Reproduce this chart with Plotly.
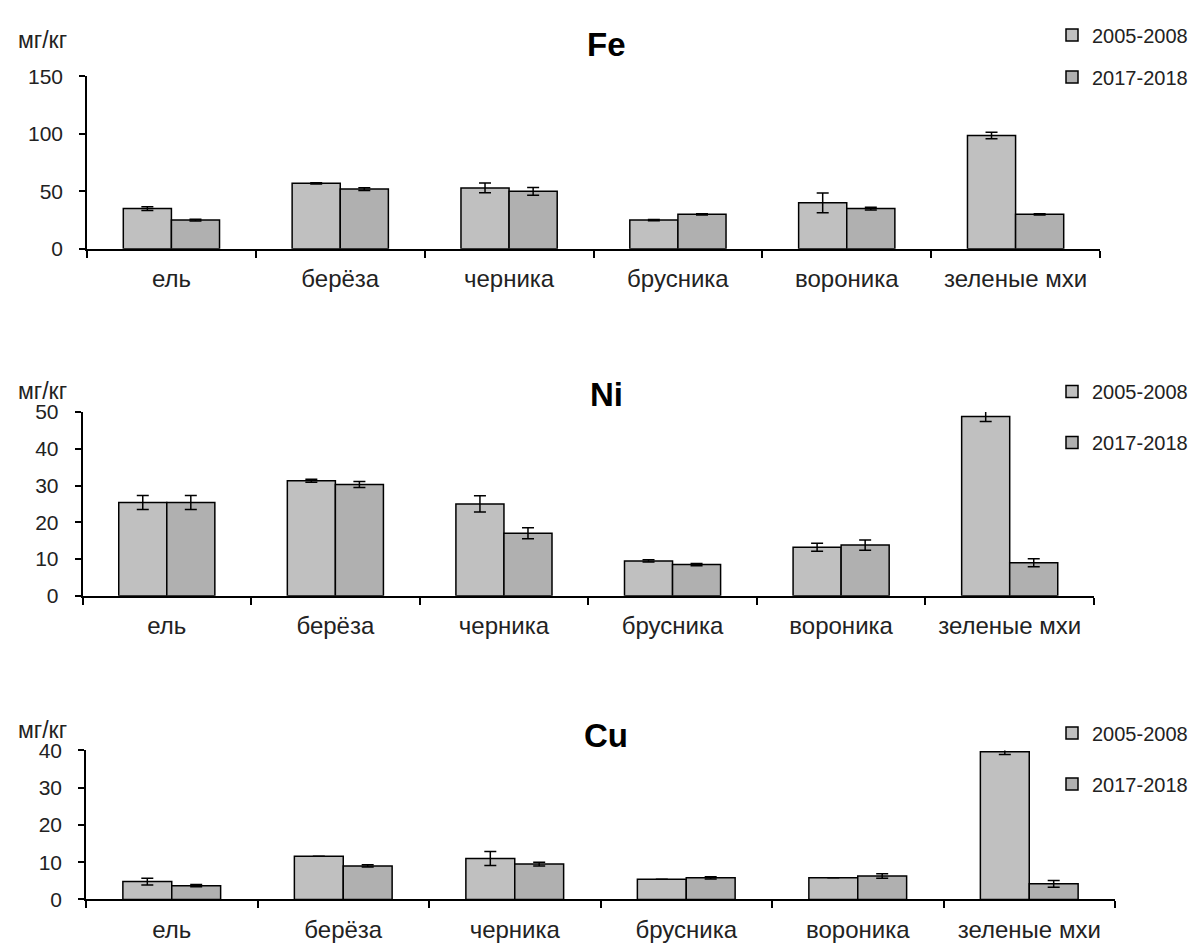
import plotly.graph_objects as go

categories = ['ель', 'берёза', 'черника', 'брусника', 'вороника', 'зеленые мхи']
series_names = ['2005-2008', '2017-2018']
panel_titles = ['Fe', 'Ni', 'Cu']
unit_label = 'мг/кг'

fe_2005 = [35, 57, 53, 25, 40, 98.6]
fe_2005_err = [1.7, 0.5, 4.3, 0.5, 8.6, 2.9]
fe_2017 = [25, 52, 50, 30, 35, 30]
fe_2017_err = [0.7, 1.2, 3.4, 0.5, 1.2, 0.6]

ni_2005 = [25.4, 31.3, 25.0, 9.5, 13.2, 48.8]
ni_2005_err = [1.9, 0.4, 2.2, 0.3, 1.1, 1.4]
ni_2017 = [25.4, 30.3, 17.0, 8.5, 13.8, 9.0]
ni_2017_err = [1.9, 0.8, 1.5, 0.3, 1.4, 1.1]

cu_2005 = [4.8, 11.6, 11.0, 5.4, 5.8, 39.6]
cu_2005_err = [0.9, 0, 1.9, 0, 0, 0.7]
cu_2017 = [3.7, 9.0, 9.5, 5.8, 6.3, 4.2]
cu_2017_err = [0.3, 0.3, 0.5, 0.3, 0.6, 0.9]

y_ranges = [[0, 150], [0, 50], [0, 40]]
y_dticks = [50, 10, 10]

W, H = 1203, 950
FONT = 'Liberation Sans, Arial, sans-serif'
colors = ['#c0c0c0', '#b0b0b0']

panels = [
    ([fe_2005, fe_2017], [fe_2005_err, fe_2017_err]),
    ([ni_2005, ni_2017], [ni_2005_err, ni_2017_err]),
    ([cu_2005, cu_2017], [cu_2005_err, cu_2017_err]),
]

# pixel geometry of each panel: (x_left, x_right, y_top, y_bottom)
geom = [
    (87, 1100, 66, 242.7),
    (82.5, 1094, 410, 598.3),
    (86, 1115, 756.7, 909.5),
]
title_y = [33, 392, 741]
unit_y = [29, 388, 736]
legend_mid = [45, 415, 765]
legend_gap = [13, 22, 22]

fig = go.Figure()
layout = dict(
    width=W, height=H, autosize=False,
    margin=dict(l=0, r=0, t=0, b=0, pad=0),
    paper_bgcolor='white', plot_bgcolor='white',
    barmode='group', bargap=0.43, bargroupgap=0,
    font=dict(family=FONT, color='black'),
    annotations=[],
)

for i, ((vals, errs), (x0, x1, yt, yb)) in enumerate(zip(panels, geom)):
    sfx = '' if i == 0 else str(i + 1)
    leg = 'legend' if i == 0 else 'legend' + str(i + 1)
    for j in range(2):
        fig.add_trace(go.Bar(
            x=categories, y=vals[j], name=series_names[j],
            marker=dict(color=colors[j], line=dict(color='black', width=1.5)),
            error_y=dict(type='data', array=errs[j], color='black', thickness=1.5, width=6),
            xaxis='x' + sfx, yaxis='y' + sfx,
            legend=leg, legendgroup=f'{i}-{j}', showlegend=True,
        ))
    layout['xaxis' + sfx] = dict(
        domain=[x0 / W, x1 / W], anchor='y' + sfx, type='category',
        range=[-0.5, 5.5], showline=True, linecolor='black', linewidth=1.5,
        ticks='outside', tickson='boundaries', ticklen=7, tickwidth=1.5, tickcolor='black',
        ticklabelstandoff=8,
        tickfont=dict(size=24, family=FONT, color='#222'), showgrid=False, zeroline=False,
        fixedrange=True,
    )
    layout['yaxis' + sfx] = dict(
        domain=[1 - yb / H, 1 - yt / H], anchor='x' + sfx,
        range=y_ranges[i], dtick=y_dticks[i], tick0=0,
        showline=True, linecolor='black', linewidth=1.5,
        ticks='outside', ticklen=6, tickwidth=1.5, tickcolor='black',
        ticklabelstandoff=12,
        tickfont=dict(size=21, family=FONT, color='#222'), showgrid=False, zeroline=False,
        fixedrange=True,
    )
    layout[leg] = dict(
        x=1052 / W, y=1 - legend_mid[i] / H, xanchor='left', yanchor='middle',
        xref='paper', yref='paper',
        font=dict(size=20, family=FONT, color='#222'),
        bgcolor='rgba(0,0,0,0)', borderwidth=0,
        traceorder='grouped', tracegroupgap=legend_gap[i],
        itemwidth=30,
    )
    layout['annotations'].append(dict(
        text='<b>' + panel_titles[i] + '</b>', x=606 / W, y=1 - title_y[i] / H,
        xref='paper', yref='paper', xanchor='center', yanchor='middle',
        showarrow=False, font=dict(size=33, family=FONT, color='black'),
    ))
    layout['annotations'].append(dict(
        text=unit_label, x=42 / W, y=1 - unit_y[i] / H,
        xref='paper', yref='paper', xanchor='center', yanchor='middle',
        showarrow=False, font=dict(size=23, family=FONT, color='#222'),
    ))

fig.update_layout(**layout)
fig.write_html('out.html', config={'displayModeBar': False},
               post_script="document.body.style.margin='0px';document.body.style.overflow='hidden';")
